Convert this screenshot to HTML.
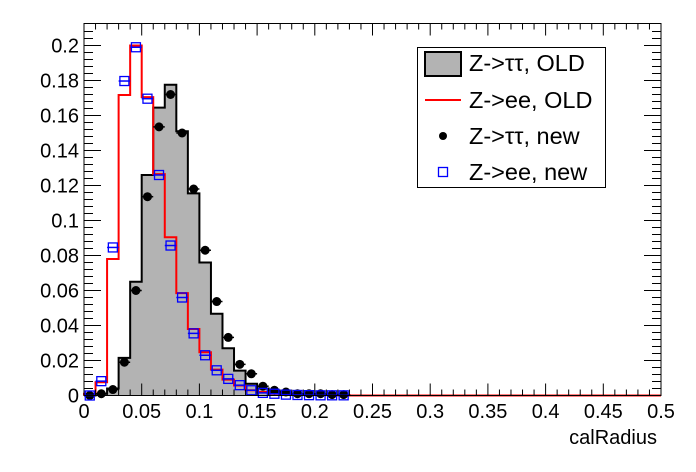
<!DOCTYPE html>
<html><head><meta charset="utf-8"><style>
html,body{margin:0;padding:0;background:#fff;}
svg{display:block;font-family:"Liberation Sans",Arial,sans-serif;}
</style></head><body>
<svg id="s" width="696" height="472" xmlns="http://www.w3.org/2000/svg"></svg>
<script>
const s=document.getElementById('s');
const X0=84,XS=1154,Y0=395.5,YS=1750,L=84,R=661,T=23.5,B=395.5;
const X=v=>X0+v*XS, Y=v=>Y0-v*YS;
let h='';
const black=[0,0.001,0.004,0.0215,0.065,0.126,0.1645,0.1776,0.151,0.1155,0.076,0.0467,0.027,0.0142,0.0067,0.004,0.002,0.001,0.0008,0.0005,0.0004,0.0003,0.0002];
const red=[0.001,0.0076,0.078,0.1717,0.2,0.1705,0.1265,0.0904,0.0585,0.038,0.0247,0.0148,0.0091,0.0057,0.003,0.002,0.001,0.0008,0.0005,0.0004,0.0003,0.0002,0.0001];
const dots=[0,0.001,0.0034,0.019,0.06,0.1136,0.1535,0.172,0.15,0.118,0.083,0.0537,0.0332,0.0178,0.0124,0.0053,0.003,0.002,0.001,0.001,0.001,0.0005,0.0005];
const sq=[0,0.0082,0.0846,0.1797,0.199,0.1696,0.126,0.0857,0.056,0.0355,0.023,0.0144,0.0095,0.0059,0.003,0.0015,0.001,0.0005,0.0003,0.0002,0.0001,0.0001,0.0001];
function step(a){let d='M'+X(0)+','+Y(0);for(let i=0;i<a.length;i++){d+=' L'+X(i*0.01)+','+Y(a[i])+' L'+X((i+1)*0.01)+','+Y(a[i]);}d+=' L'+X(a.length*0.01)+','+Y(0);return d;}
h+=`<path d="${step(black)} Z" fill="#b3b3b3" stroke="none"/>`;
h+=`<path d="${step(black)}" fill="none" stroke="#000" stroke-width="2"/>`;
h+=`<path d="${step(red)} L${R},${Y0}" fill="none" stroke="#ff0000" stroke-width="2"/>`;
for(let i=0;i<dots.length;i++){const cx=X((i+0.5)*0.01),cy=Y(dots[i]);h+=`<line x1="${X(i*0.01)}" x2="${X((i+1)*0.01)}" y1="${cy}" y2="${cy}" stroke="#000" stroke-width="1.5"/><circle cx="${cx}" cy="${cy}" r="4.5" fill="#000"/>`;}
for(let i=0;i<sq.length;i++){const cx=X((i+0.5)*0.01),cy=Y(sq[i]);h+=`<line x1="${X(i*0.01)}" x2="${X((i+1)*0.01)}" y1="${cy}" y2="${cy}" stroke="#0000ff" stroke-width="1.5"/><rect x="${cx-4.5}" y="${cy-4.5}" width="9" height="9" fill="none" stroke="#0000ff" stroke-width="1.3"/>`;}
h+=`<rect x="${L}" y="${T}" width="${R-L}" height="${B-T}" fill="none" stroke="#000" stroke-width="1"/>`;
for(let k=0;k<=52;k++){const v=k*0.004;const y=Y(v);if(y<T)break;const maj=k%5==0;const len=maj?17:9;h+=`<line x1="${L}" x2="${L+len}" y1="${y}" y2="${y}" stroke="#000"/><line x1="${R}" x2="${R-len}" y1="${y}" y2="${y}" stroke="#000"/>`;if(maj){const lab=k==0?'0':(+(v).toFixed(2)).toString();h+=`<text x="79" y="${y+7}" font-size="20" text-anchor="end">${lab}</text>`;}}
for(let k=0;k<=50;k++){const v=k*0.01;const x=X(v);const maj=k%5==0;const len=maj?12:6;h+=`<line x1="${x}" x2="${x}" y1="${B}" y2="${B-len}" stroke="#000"/><line x1="${x}" x2="${x}" y1="${T}" y2="${T+len}" stroke="#000"/>`;if(maj){const lab=k==0?'0':(+(v).toFixed(2)).toString();h+=`<text x="${x}" y="418" font-size="20" text-anchor="middle">${lab}</text>`;}}
h+=`<text x="657" y="444" font-size="20" text-anchor="end">calRadius</text>`;
h+=`<rect x="417.5" y="47.5" width="188" height="140" fill="#fff" stroke="#000" stroke-width="1"/>`;
h+=`<rect x="425" y="52" width="36" height="24" fill="#b3b3b3" stroke="#000" stroke-width="2"/>`;
h+=`<line x1="425" x2="461" y1="100" y2="100" stroke="#ff0000" stroke-width="2"/>`;
h+=`<circle cx="443" cy="136" r="4" fill="#000"/>`;
h+=`<rect x="438.5" y="167.5" width="9" height="9" fill="none" stroke="#0000ff" stroke-width="1.3"/>`;
const lt=['Z-&gt;ττ, OLD','Z-&gt;ee, OLD','Z-&gt;ττ, new','Z-&gt;ee, new'];
[63,100,136,172].forEach((y,i)=>{h+=`<text x="469" y="${y+8}" font-size="23.5">${lt[i]}</text>`;});
s.innerHTML=h;
</script>
</body></html>
